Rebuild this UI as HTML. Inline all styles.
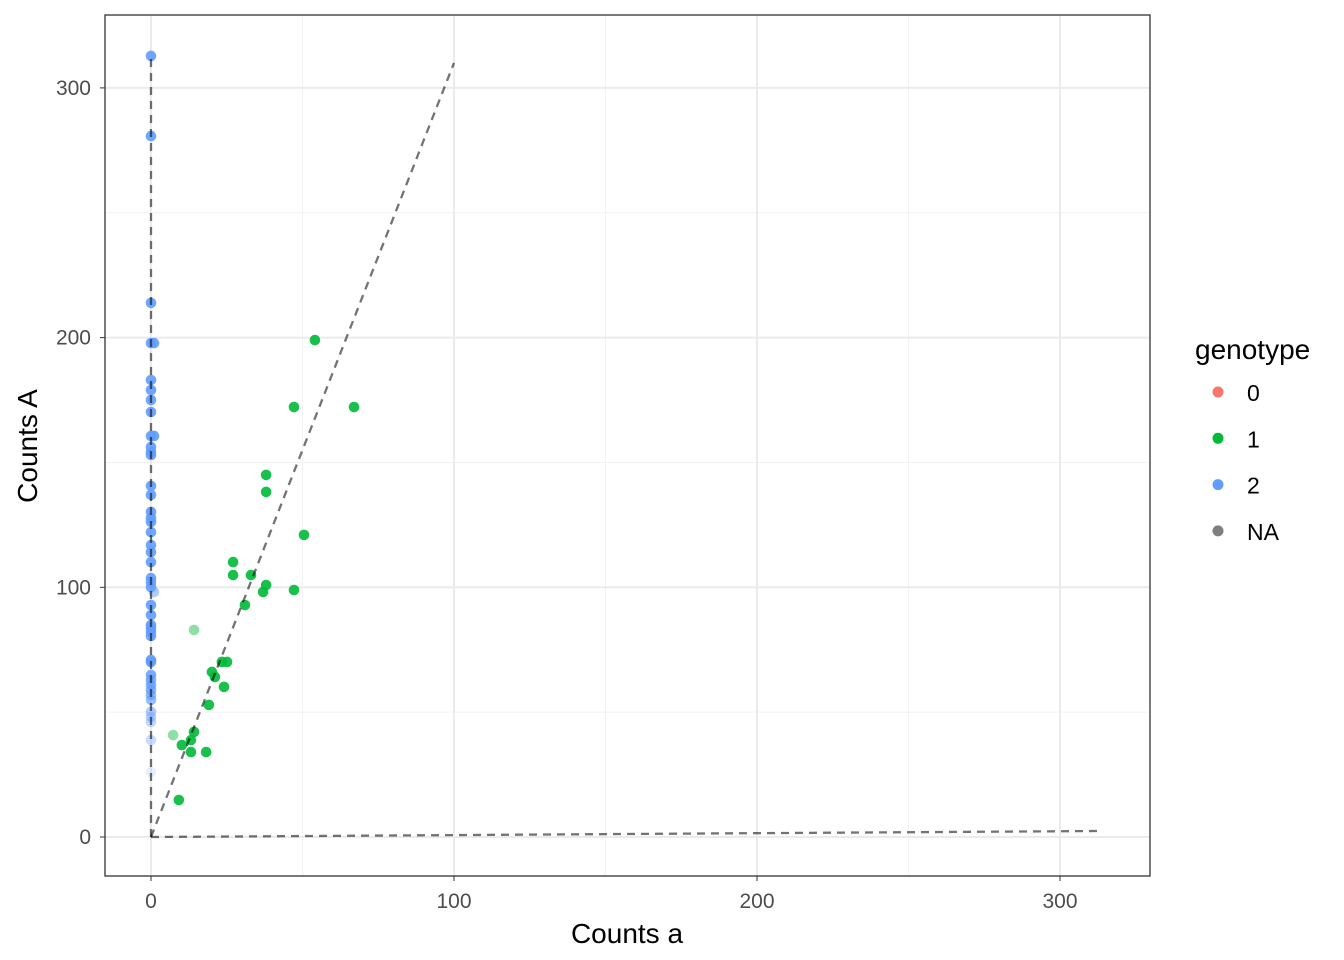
<!DOCTYPE html>
<html><head><meta charset="utf-8"><style>
html,body{margin:0;padding:0;background:#fff;}
svg{display:block;font-family:"Liberation Sans",sans-serif;}
</style></head><body>
<svg id="chart" width="1344" height="960"></svg>
<script>
const blueA=[0,0,0,0,1,0,0,0,0,0,1,0,0,0,0,0,0,0,0,0,0,0,0,0,1,0,0,0,0,0,0,0,0,0,0,0,0,0,0,0,0,0,0,0,0,0];
const blueB=[312.8,280.7,213.9,197.8,197.8,183.0,179.0,175.0,170.2,160.6,160.6,156.2,154.2,153.0,140.6,137.0,130.2,127.8,126.2,122.1,116.9,114.1,110.1,103.7,98.1,102.1,100.1,92.9,88.9,84.9,83.7,82.1,80.5,70.9,70.1,64.9,62.9,60.9,58.9,56.9,54.9,50.1,48.1,46.1,38.8,26.0];
const blueAlpha=[0.9,0.9,0.9,0.9,0.9,0.9,0.9,0.9,0.9,0.9,0.9,0.9,0.9,0.9,0.9,0.9,0.9,0.9,0.9,0.9,0.9,0.9,0.9,0.9,0.5,0.9,0.9,0.9,0.9,0.9,0.9,0.9,0.9,0.9,0.9,0.85,0.8,0.8,0.75,0.7,0.65,0.5,0.45,0.4,0.35,0.15];
const greenA=[54.1,47.2,67.0,38.0,38.0,50.5,27.1,27.1,33.0,38.0,37.0,47.2,31.0,14.2,20.1,23.4,25.1,21.1,24.1,19.1,7.3,14.2,13.2,10.2,13.2,18.2,9.2];
const greenB=[199.0,172.2,172.2,145.0,138.2,121.0,110.1,104.9,104.9,100.9,98.1,98.9,92.9,82.9,66.1,70.1,70.1,64.1,60.1,52.9,40.8,42.1,38.8,36.8,34.0,34.0,14.8];
const greenAlpha=[0.9,0.9,0.9,0.9,0.9,0.9,0.9,0.9,0.9,0.9,0.9,0.9,0.9,0.45,0.9,0.9,0.9,0.9,0.9,0.9,0.45,0.9,0.9,0.9,0.9,0.9,0.9];
const xTicks=[0,100,200,300];
const yTicks=[0,100,200,300];
const refLines=[[0,0,0,313],[0,0,100,310],[0,0,313,2.4]];
const legendLabels=["0","1","2","NA"];
const legendColors=["#F8766D","#00BA38","#619CFF","#7F7F7F"];

const svg=document.getElementById('chart');
const NS='http://www.w3.org/2000/svg';
const L=105,T=15,R=1150,B=876;
const sx=v=>151+v*3.03;
const sy=v=>837-v*2.497;
function mk(tag,at,parent){const e=document.createElementNS(NS,tag);for(const k in at)e.setAttribute(k,at[k]);(parent||svg).appendChild(e);return e;}

let bg=mk('rect',{x:L,y:T,width:R-L,height:B-T,fill:'#fff'});


[50,150,250].forEach(v=>{
  let g=mk('line',{x1:sx(v),x2:sx(v),y1:T,y2:B,stroke:'#f2f2f2','stroke-width':1});
  
  
  let h=mk('line',{x1:L,x2:R,y1:sy(v),y2:sy(v),stroke:'#f2f2f2','stroke-width':1});
  
  
});
xTicks.forEach(v=>{
  let g=mk('line',{x1:sx(v),x2:sx(v),y1:T,y2:B,stroke:'#ebebeb','stroke-width':2});
  
  
  let t=mk('line',{x1:sx(v),x2:sx(v),y1:B,y2:B+5,stroke:'#333','stroke-width':1});
  
  
  let l=mk('text',{x:sx(v),y:908,'text-anchor':'middle','font-size':21,fill:'#4d4d4d'});
  l.textContent=v;
  
  
});
yTicks.forEach(v=>{
  let g=mk('line',{x1:L,x2:R,y1:sy(v),y2:sy(v),stroke:'#ebebeb','stroke-width':2});
  
  
  let t=mk('line',{x1:L-5,x2:L,y1:sy(v),y2:sy(v),stroke:'#333','stroke-width':1});
  
  
  let l=mk('text',{x:L-14,y:sy(v)+7,'text-anchor':'end','font-size':21,fill:'#4d4d4d'});
  l.textContent=v;
  
  
});
blueA.forEach((a,i)=>{
  let c=mk('circle',{cx:sx(a),cy:sy(blueB[i]),r:5.3,fill:'#619CFF','fill-opacity':blueAlpha[i]});
  
  
});
greenA.forEach((a,i)=>{
  let c=mk('circle',{cx:sx(a),cy:sy(greenB[i]),r:5.3,fill:'#00BA38','fill-opacity':greenAlpha[i]});
  
  
});
refLines.forEach(r=>{
  let l=mk('line',{x1:sx(r[0]),y1:sy(r[1]),x2:sx(r[2]),y2:sy(r[3]),stroke:'#000','stroke-opacity':0.55,'stroke-width':2.3,'stroke-dasharray':'8,6'});
  
  
});
let fr=mk('rect',{x:L,y:T,width:R-L,height:B-T,fill:'none',stroke:'#333','stroke-width':1.3});


let xt=mk('text',{x:627,y:943,'text-anchor':'middle','font-size':28,fill:'#000'});
xt.textContent='Counts a';


let yt=mk('text',{x:0,y:0,'text-anchor':'middle','font-size':28,fill:'#000',transform:'translate(37,446) rotate(-90)'});
yt.textContent='Counts A';


let lt=mk('text',{x:1195,y:359,'font-size':28,fill:'#000'});
lt.textContent='genotype';


legendLabels.forEach((s,i)=>{
  const y=392+i*46.3;
  let c=mk('circle',{cx:1218,cy:y,r:5.5,fill:legendColors[i]});
  
  
  let t=mk('text',{x:1247,y:y+9,'font-size':23,fill:'#000'});
  t.textContent=s;
  
  
});
</script>
</body></html>
